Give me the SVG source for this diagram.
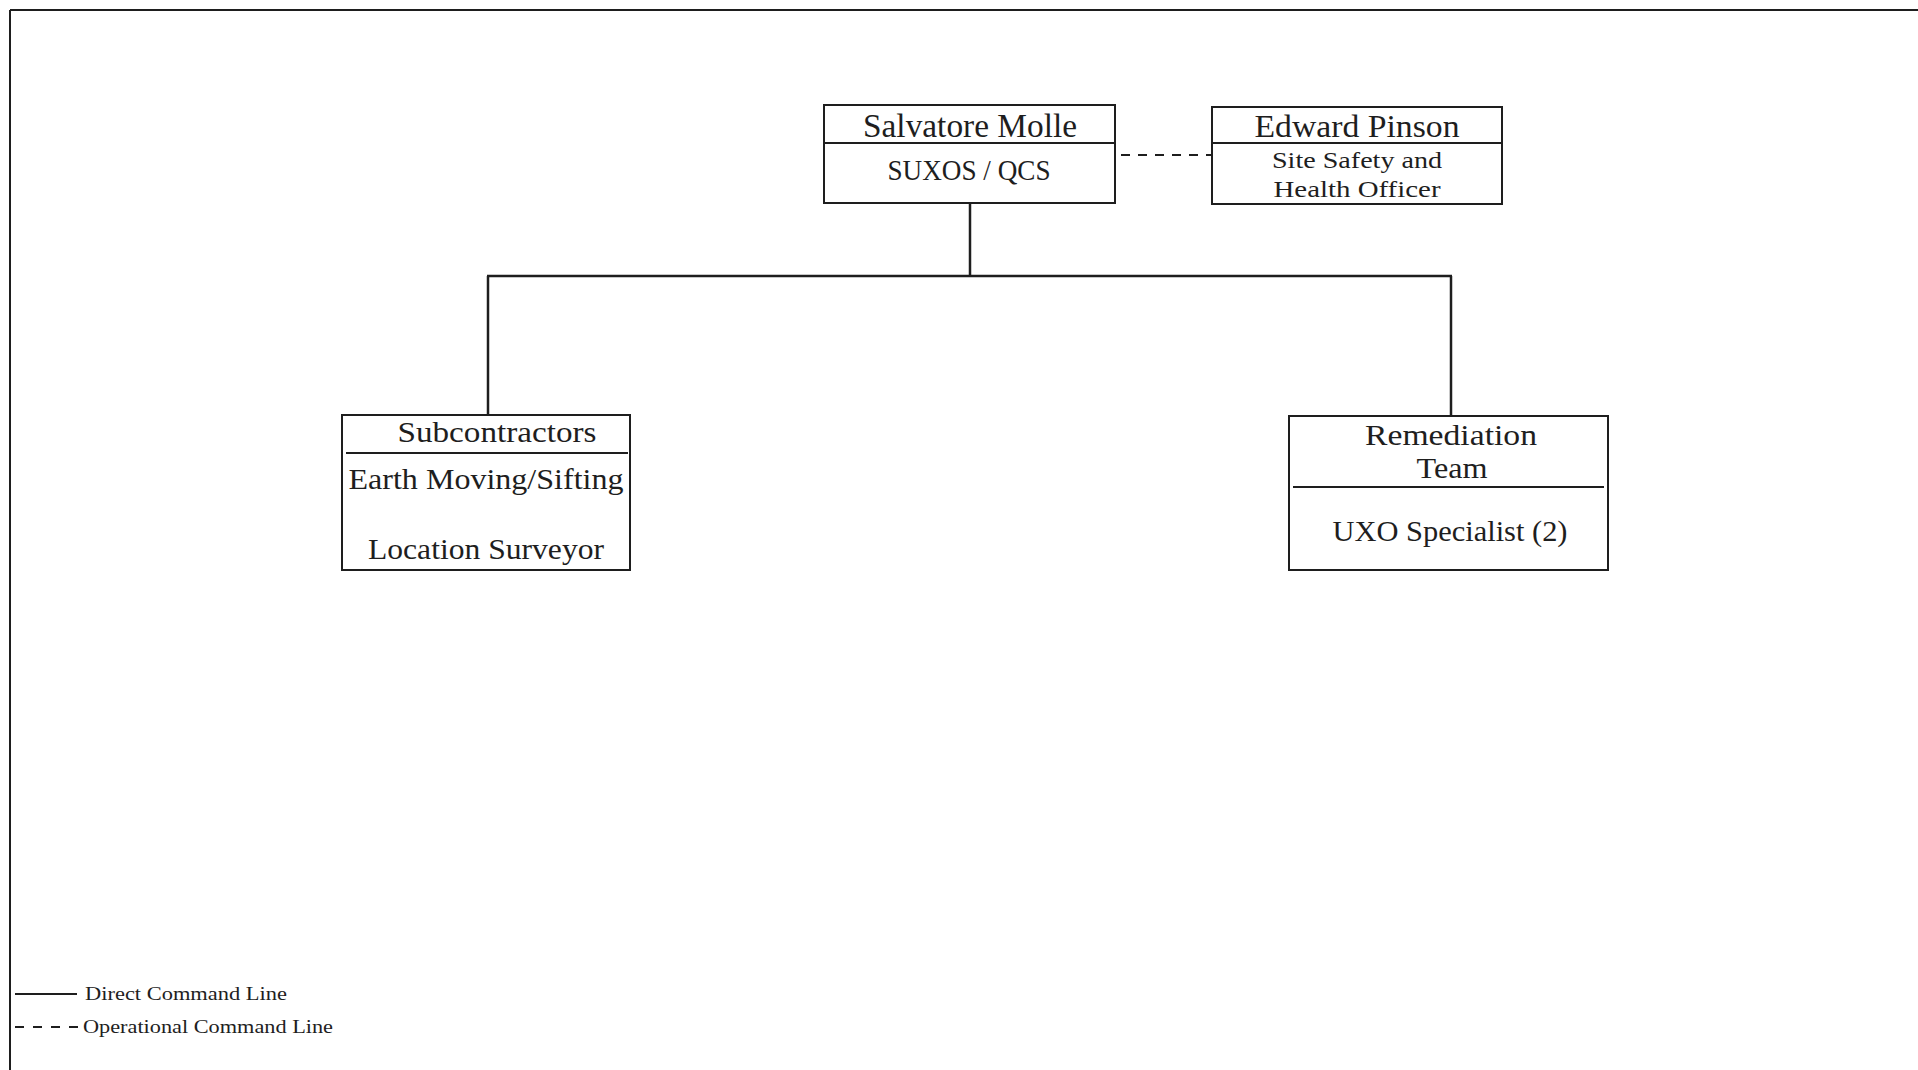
<svg xmlns="http://www.w3.org/2000/svg" width="1918" height="1070" viewBox="0 0 1918 1070">
  <style>
    .box { fill: #ffffff; stroke: #1e1e1e; stroke-width: 2; }
    .rule { stroke: #1e1e1e; stroke-width: 2; fill: none; }
    .link { stroke: #1e1e1e; stroke-width: 2.5; fill: none; }
    .dash { stroke: #1e1e1e; stroke-width: 2; fill: none; stroke-dasharray: 9 8; }
    text { font-family: "Liberation Serif", "Times New Roman", serif; fill: #1e1e1e; }
    .c { text-anchor: middle; }
  </style>

  <rect width="1918" height="1070" fill="#ffffff"/>

  <!-- page frame -->
  <g id="frame">
    <line class="rule" x1="10" y1="10" x2="1918" y2="10"/>
    <line class="rule" x1="10" y1="10" x2="10" y2="1070"/>
  </g>

  <!-- connectors -->
  <g id="connectors">
    <line class="link" x1="970" y1="203" x2="970" y2="276"/>
    <line class="link" x1="487" y1="276" x2="1452" y2="276"/>
    <line class="link" x1="488" y1="276" x2="488" y2="415"/>
    <line class="link" x1="1451" y1="276" x2="1451" y2="416"/>
    <line class="dash" x1="1121" y1="155" x2="1212" y2="155"/>
  </g>

  <g id="salvatore-molle">
    <rect class="box" x="824" y="105" width="291" height="98"/>
    <line class="rule" x1="824" y1="143" x2="1115" y2="143"/>
    <text class="c" x="970" y="137" font-size="33" textLength="214" lengthAdjust="spacingAndGlyphs">Salvatore Molle</text>
    <text class="c" x="969" y="180" font-size="30" textLength="163" lengthAdjust="spacingAndGlyphs">SUXOS / QCS</text>
  </g>

  <g id="edward-pinson">
    <rect class="box" x="1212" y="107" width="290" height="97"/>
    <line class="rule" x1="1212" y1="143" x2="1502" y2="143"/>
    <text class="c" x="1357" y="137" font-size="31" textLength="205" lengthAdjust="spacingAndGlyphs">Edward Pinson</text>
    <text class="c" x="1357" y="168" font-size="24" textLength="170" lengthAdjust="spacingAndGlyphs">Site Safety and</text>
    <text class="c" x="1357" y="197" font-size="24" textLength="167" lengthAdjust="spacingAndGlyphs">Health Officer</text>
  </g>

  <g id="subcontractors">
    <rect class="box" x="342" y="415" width="288" height="155"/>
    <line class="rule" x1="346" y1="453" x2="628" y2="453"/>
    <text class="c" x="497" y="442" font-size="29" textLength="199" lengthAdjust="spacingAndGlyphs">Subcontractors</text>
    <text class="c" x="486" y="489" font-size="30" textLength="275" lengthAdjust="spacingAndGlyphs">Earth Moving/Sifting</text>
    <text class="c" x="486" y="559" font-size="30" textLength="236" lengthAdjust="spacingAndGlyphs">Location Surveyor</text>
  </g>

  <g id="remediation-team">
    <rect class="box" x="1289" y="416" width="319" height="154"/>
    <line class="rule" x1="1293" y1="487" x2="1604" y2="487"/>
    <text class="c" x="1451" y="445" font-size="30" textLength="172" lengthAdjust="spacingAndGlyphs">Remediation</text>
    <text class="c" x="1452" y="478" font-size="30" textLength="71" lengthAdjust="spacingAndGlyphs">Team</text>
    <text class="c" x="1450" y="541" font-size="30" textLength="235" lengthAdjust="spacingAndGlyphs">UXO Specialist (2)</text>
  </g>

  <!-- legend -->
  <g id="legend">
    <line class="rule" x1="15" y1="994" x2="77" y2="994"/>
    <text x="85" y="1000" font-size="18" textLength="202" lengthAdjust="spacingAndGlyphs">Direct Command Line</text>
    <line class="rule" x1="15" y1="1027" x2="79" y2="1027" stroke-dasharray="9 9"/>
    <text x="83" y="1033" font-size="18" textLength="250" lengthAdjust="spacingAndGlyphs">Operational Command Line</text>
  </g>
</svg>
